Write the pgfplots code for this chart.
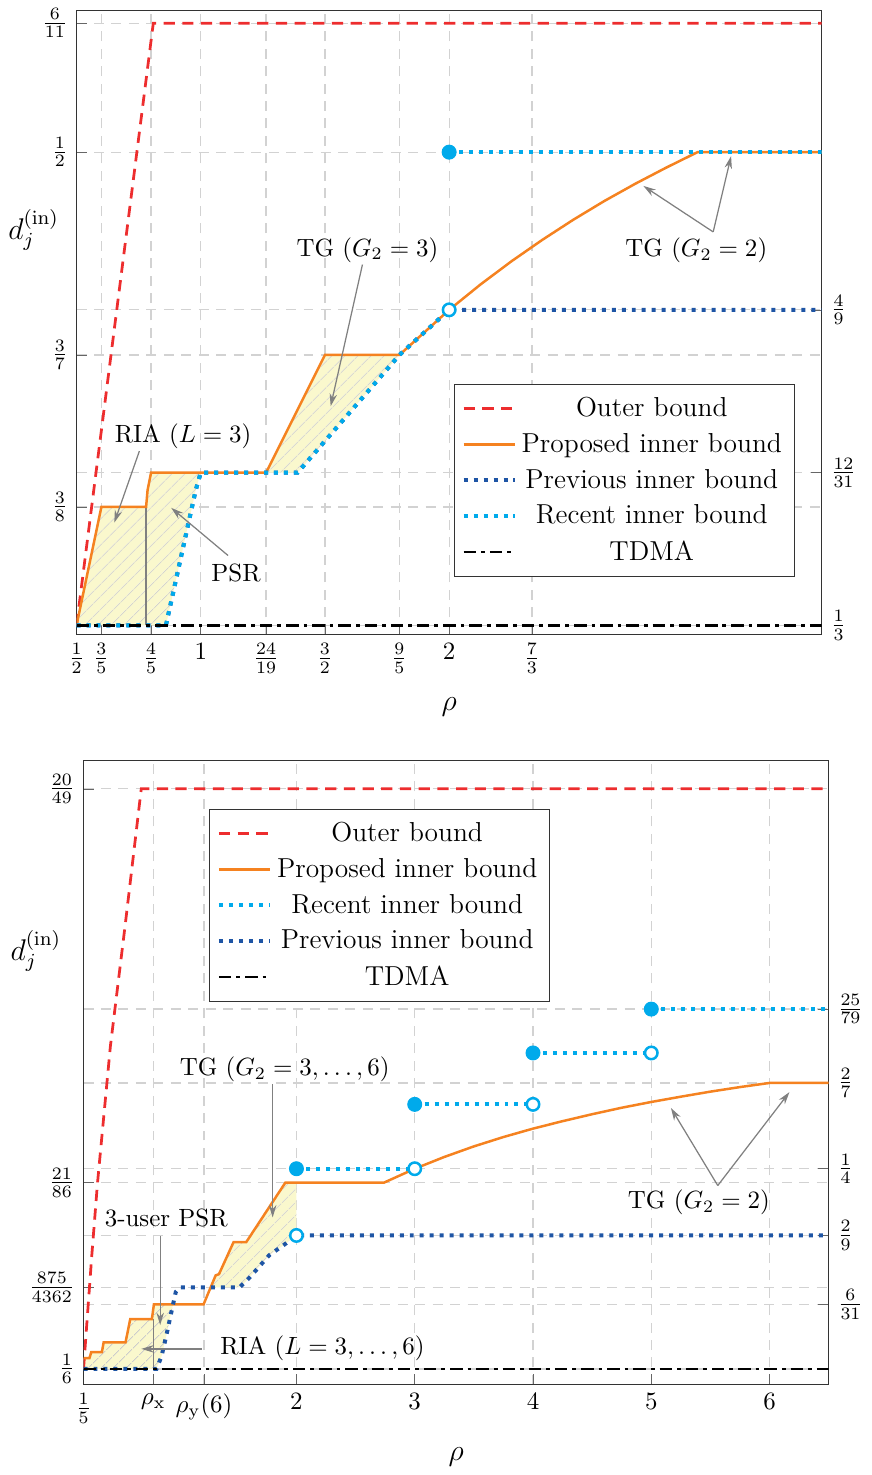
\documentclass[border=0pt]{standalone}
\usepackage{pgfplots}
\pgfplotsset{compat=1.18}
\usetikzlibrary{patterns,patterns.meta,arrows.meta}
\definecolor{obred}{RGB}{237,45,46}
\definecolor{porange}{RGB}{245,130,32}
\definecolor{prevblue}{RGB}{30,85,165}
\definecolor{recblue}{RGB}{0,170,235}
\definecolor{fillyel}{RGB}{250,248,205}
\tikzset{
  ob/.style={obred, line width=1.1pt, dash pattern=on 4.5pt off 3pt},
  pib/.style={porange, line width=1pt},
  prv/.style={prevblue, line width=1.6pt, dash pattern=on 1.6pt off 2.4pt},
  rec/.style={recblue, line width=1.6pt, dash pattern=on 1.6pt off 2.4pt},
  tdma/.style={black, line width=1pt, dash pattern=on 5pt off 2pt on 1.5pt off 2pt},
  hatch/.style={draw=none, fill=fillyel, postaction={pattern={Lines[angle=45,distance=4pt,line width=0.4pt]}, pattern color=gray!40}},
  ann/.style={gray, line width=0.5pt, -{Stealth[length=5pt,width=3pt]}},
}
\begin{document}
\begin{tikzpicture}
\pgfplotsset{
  base/.style={
    scale only axis, width=298.8pt, height=250.4pt,
    clip mode=individual,
    axis line style={black!80},
    tick style={black!60},
    grid style={gray!35, dash pattern=on 4pt off 3pt, line width=0.5pt},
    xtick pos=bottom,
    xlabel style={font=\large, yshift=-3pt},
  },
  fullmk/.style={only marks, mark=*, mark size=2.8pt, mark options={fill=recblue, draw=recblue, solid}},
  openmk/.style={only marks, mark=*, mark size=2.5pt, mark options={fill=white, draw=recblue, line width=1pt, solid}},
  mylegend/.style={
    legend cell align=center,
    legend style={font=\fontsize{11}{13}\selectfont, draw=black!80, inner sep=3pt, row sep=1.2pt},
    legend image code/.code={\draw[##1] (0cm,0cm) -- (0.72cm,0cm);},
  },
}
% ---------- TOP: right ticks ----------
\begin{axis}[base, at={(0,0)}, anchor=south west,
  xmin=0.5, xmax=3.5, ymin=0.33, ymax=0.55,
  xtick=\empty, ytick pos=right, yticklabel pos=right,
  ytick={0.333333,0.387097,0.444444},
  yticklabels={$\frac{1}{3}$,$\frac{12}{31}$,$\frac{4}{9}$},
  ymajorgrids]
\end{axis}
% ---------- TOP: main ----------
\begin{axis}[base, mylegend, name=top, at={(0,0)}, anchor=south west,
  xmin=0.5, xmax=3.5, ymin=0.33, ymax=0.55,
  ytick pos=left,
  xtick={0.5,0.6,0.8,1,1.263158,1.5,1.8,2,2.333333},
  xticklabels={$\frac{1}{2}$,$\frac{3}{5}$,$\frac{4}{5}$,$1$,$\frac{24}{19}$,$\frac{3}{2}$,$\frac{9}{5}$,$2$,$\frac{7}{3}$},
  ytick={0.375,0.428571,0.5,0.545455},
  yticklabels={$\frac{3}{8}$,$\frac{3}{7}$,$\frac{1}{2}$,$\frac{6}{11}$},
  xmajorgrids, ymajorgrids,
  xlabel={$\rho$},
  legend style={at={(0.9639,0.0927)}, anchor=south east},
]
\addlegendimage{ob}\addlegendentry{Outer bound}
\addlegendimage{pib}\addlegendentry{Proposed inner bound}
\addlegendimage{prv}\addlegendentry{Previous inner bound}
\addlegendimage{rec}\addlegendentry{Recent inner bound}
\addlegendimage{tdma}\addlegendentry{TDMA}
% fills
\addplot[hatch, forget plot] coordinates {(0.5,0.333333)(0.6,0.375)(0.78,0.375)(0.786,0.381)(0.8,0.387097)(1,0.387097)(0.98,0.381)(0.86,0.333333)} -- cycle;
\addplot[hatch, forget plot] coordinates {(1.263158,0.387097)(1.5,0.428571)(1.8,0.428571)(1.39,0.387097)} -- cycle;
\addplot[gray, line width=0.5pt, forget plot] coordinates {(0.78,0.333333)(0.78,0.375)};
% outer
\addplot[ob, forget plot] coordinates {(0.5,0.333333)(0.809,0.545455)(3.5,0.545455)};
% proposed
\addplot[pib, forget plot] coordinates {(0.5,0.333333)(0.6,0.375)(0.78,0.375)(0.786,0.381)(0.8,0.387097)(1.263158,0.387097)(1.5,0.428571)(1.8,0.428571)(2,0.444444)(2.125,0.4533)(2.25,0.4615)(2.375,0.4691)(2.5,0.4762)(2.625,0.4828)(2.75,0.4889)(2.875,0.4946)(3,0.5)(3.5,0.5)};
% previous
\addplot[prv, forget plot] coordinates {(0.5,0.333333)(0.86,0.333333)(0.98,0.381)(1,0.387097)(1.39,0.387097)(1.8,0.428571)(2,0.444444)(3.5,0.444444)};
% recent
\addplot[rec, forget plot] coordinates {(0.5,0.333333)(0.86,0.333333)(0.98,0.381)(1,0.387097)(1.39,0.387097)(1.8,0.428571)(2,0.444444)};
\addplot[rec, forget plot] coordinates {(2,0.5)(3.5,0.5)};
% tdma
\addplot[tdma, forget plot] coordinates {(0.5,0.333333)(3.5,0.333333)};
% marks
\addplot[fullmk, forget plot] coordinates {(2,0.5)};
\addplot[openmk, forget plot] coordinates {(2,0.444444)};
% annotations
\node at (axis cs:0.929,0.4) {RIA ($L=3$)};
\draw[ann] (axis cs:0.753,0.3947) -- (axis cs:0.652,0.3695);
\node at (axis cs:1.142,0.3519) {PSR};
\draw[ann] (axis cs:1.110,0.3579) -- (axis cs:0.881,0.3747);
\node at (axis cs:1.671,0.4656) {TG ($G_2=3$)};
\draw[ann] (axis cs:1.651,0.4604) -- (axis cs:1.523,0.4105);
\node at (axis cs:2.995,0.4653) {TG ($G_2=2$)};
\draw[ann] (axis cs:3.063,0.4719) -- (axis cs:2.782,0.4881);
\draw[ann] (axis cs:3.063,0.4719) -- (axis cs:3.135,0.4986);
\node[font=\large] at (axis description cs:-0.0576,0.6486) {$d_j^{(\mathrm{in})}$};
\end{axis}
% ---------- BOTTOM: right ticks ----------
\begin{axis}[base, at={(2.8pt,-50.4pt)}, anchor=north west,
  xmin=0.2, xmax=6.5, ymin=0.16, ymax=0.42,
  xtick=\empty, ytick pos=right, yticklabel pos=right,
  ytick={0.193548,0.222222,0.25,0.285714,0.316456},
  yticklabels={$\frac{6}{31}$,$\frac{2}{9}$,$\frac{1}{4}$,$\frac{2}{7}$,$\frac{25}{79}$},
  ymajorgrids]
\end{axis}
% ---------- BOTTOM: main ----------
\begin{axis}[base, mylegend, at={(2.8pt,-50.4pt)}, anchor=north west,
  xmin=0.2, xmax=6.5, ymin=0.16, ymax=0.42,
  ytick pos=left,
  xtick={0.2,0.789,1.2185,2,3,4,5,6},
  xticklabels={$\frac{1}{5}$,$\rho_{\mathrm{x}}$,$\rho_{\mathrm{y}}(6)$,$2$,$3$,$4$,$5$,$6$},
  ytick={0.166667,0.200596,0.244186,0.408163},
  yticklabels={$\frac{1}{6}$,$\frac{875}{4362}$,$\frac{21}{86}$,$\frac{20}{49}$},
  xmajorgrids, ymajorgrids,
  xlabel={$\rho$},
  legend style={at={(0.1684,0.9217)}, anchor=north west},
]
\addlegendimage{ob}\addlegendentry{Outer bound}
\addlegendimage{pib}\addlegendentry{Proposed inner bound}
\addlegendimage{rec}\addlegendentry{Recent inner bound}
\addlegendimage{prv}\addlegendentry{Previous inner bound}
\addlegendimage{tdma}\addlegendentry{TDMA}
% fills
\addplot[hatch, forget plot] coordinates {(0.2,0.1711)(0.25,0.1711)(0.265,0.1736)(0.355,0.1736)(0.37,0.1777)(0.555,0.1777)(0.595,0.1874)(0.778,0.1874)(0.795,0.193548)(0.957,0.193548)(0.943,0.1904)(0.901,0.1808)(0.859,0.1718)(0.817,0.166667)(0.2,0.166667)} -- cycle;
\addplot[hatch, forget plot] coordinates {(1.275,0.200596)(1.317,0.2056)(1.345,0.2061)(1.468,0.2194)(1.575,0.2194)(1.906,0.244186)(2,0.244186)(2,0.222222)(1.9,0.2185)(1.77,0.214)(1.6,0.2045)(1.519,0.200596)} -- cycle;
\addplot[gray, line width=0.5pt, forget plot] coordinates {(0.789,0.166667)(0.789,0.1874)};
% outer
\addplot[ob, forget plot] coordinates {(0.2,0.166667)(0.27,0.214)(0.318,0.244)(0.427,0.301)(0.5535,0.352)(0.688,0.408163)(6.5,0.408163)};
% proposed
\addplot[pib, forget plot] coordinates {(0.2,0.1711)(0.25,0.1711)(0.265,0.1736)(0.355,0.1736)(0.37,0.1777)(0.555,0.1777)(0.595,0.1874)(0.778,0.1874)(0.795,0.193548)(1.215,0.193548)(1.317,0.2056)(1.345,0.2061)(1.468,0.2194)(1.575,0.2194)(1.906,0.244186)(2.739,0.244186)(3,0.25)(3.25,0.2549)(3.5,0.2593)(3.75,0.2632)(4,0.2667)(4.25,0.2698)(4.5,0.2727)(4.75,0.2754)(5,0.2778)(5.25,0.28)(5.5,0.2821)(5.75,0.284)(6,0.285714)(6.5,0.285714)};
% previous
\addplot[prv, forget plot] coordinates {(0.2,0.166667)(0.817,0.166667)(0.859,0.1718)(0.901,0.1808)(0.943,0.1904)(0.98,0.1987)(1.014,0.200596)(1.519,0.200596)(1.6,0.2045)(1.77,0.214)(1.9,0.2185)(2,0.222222)(6.5,0.222222)};
% recent
\addplot[rec, forget plot] coordinates {(2,0.25)(3,0.25)};
\addplot[rec, forget plot] coordinates {(3,0.2768)(4,0.2768)};
\addplot[rec, forget plot] coordinates {(4,0.2982)(5,0.2982)};
\addplot[rec, forget plot] coordinates {(5,0.316456)(6.5,0.316456)};
% tdma
\addplot[tdma, forget plot] coordinates {(0.2,0.166667)(6.5,0.166667)};
% marks
\addplot[fullmk, forget plot] coordinates {(2,0.25)(3,0.2768)(4,0.2982)(5,0.316456)};
\addplot[openmk, forget plot] coordinates {(2,0.222222)(3,0.25)(4,0.2768)(5,0.2982)};
% annotations
\node at (axis cs:1.900,0.2915) {TG ($G_2=3,\ldots,6$)};
\draw[ann] (axis cs:1.799,0.2852) -- (axis cs:1.799,0.2297);
\node at (axis cs:0.899,0.2293) {3-user PSR};
\draw[ann] (axis cs:0.848,0.2218) -- (axis cs:0.848,0.1849);
\node at (axis cs:2.22,0.1754) {RIA ($L=3,\ldots,6$)};
\draw[ann] (axis cs:1.2017,0.1750) -- (axis cs:0.688,0.1750);
\node at (axis cs:5.402,0.2359) {TG ($G_2=2$)};
\draw[ann] (axis cs:5.562,0.2430) -- (axis cs:5.166,0.2753);
\draw[ann] (axis cs:5.562,0.2430) -- (axis cs:6.168,0.2819);
\node[font=\large] at (axis description cs:-0.064,0.695) {$d_j^{(\mathrm{in})}$};
\end{axis}
\end{tikzpicture}
\end{document}
